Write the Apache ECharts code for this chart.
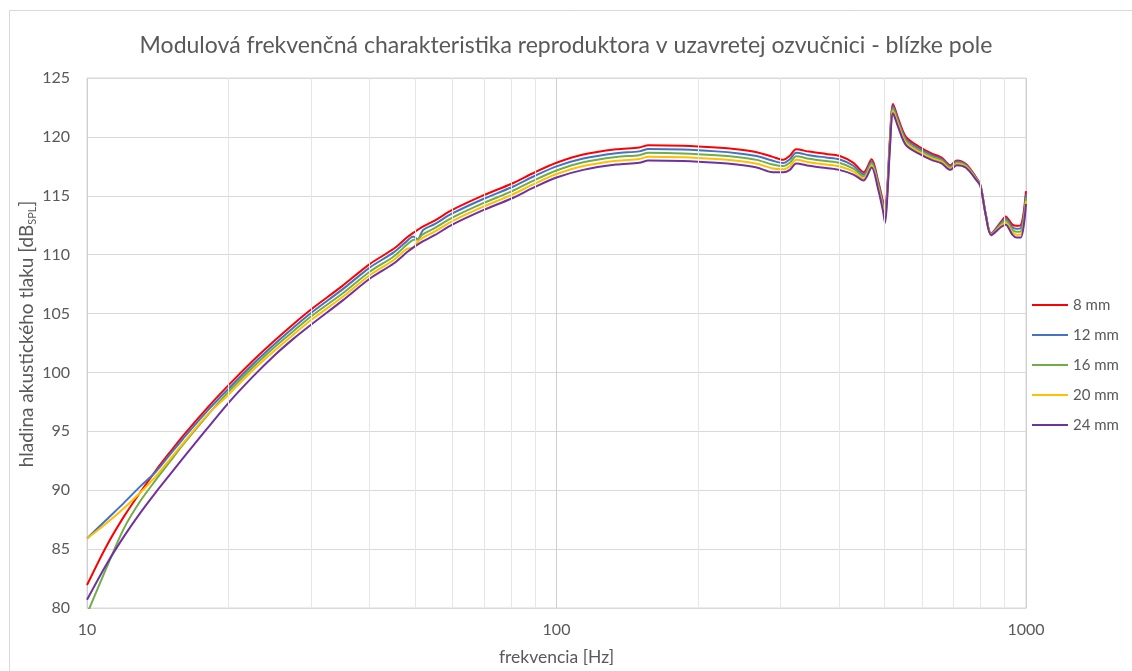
<!DOCTYPE html>
<html>
<head>
<meta charset="utf-8">
<script src="https://cdn.jsdelivr.net/npm/echarts@6/dist/echarts.min.js"></script>
<style>
html,body{margin:0;padding:0;background:#fff;}
#c{width:1132px;height:671px;}
</style>
</head>
<body>
<div id="c"></div>
<script>
const freqs = [10, 11, 12, 13, 14, 15, 16, 18, 20, 22.5, 25, 27.5, 30,
  35, 40, 45, 48, 49.5, 50.6, 52, 55, 60, 70, 80, 90, 100,
  114, 134, 150, 157, 186, 219, 242, 267, 289, 304, 314, 324, 345, 375,
  400, 429, 451, 469, 484, 496, 501, 507, 513, 521, 534, 555,
  590, 629, 661, 690, 712, 745, 785, 800, 821, 843,
  885, 905, 935, 955, 975, 1000];

const mm8 = [81.95, 85.25, 87.8, 89.85, 91.65, 93.2, 94.6, 96.95, 98.9, 100.95, 102.65, 104.1, 105.35,
  107.35, 109.2, 110.5, 111.45, 111.85, 112.1, 112.4, 112.9, 113.8, 115.05, 116.0, 117.0, 117.8,
  118.5, 118.95, 119.1, 119.3, 119.25, 119.1, 118.95, 118.7, 118.3, 118.05, 118.4, 118.95, 118.75, 118.55,
  118.4, 117.8, 117.0, 118.1, 116.3, 114.5, 113.7, 116.0, 119.8, 122.8, 121.6, 120.0,
  119.2, 118.6, 118.25, 117.6, 118.0, 117.7, 116.5, 115.9, 113.4, 111.8,
  112.8, 113.25, 112.55, 112.45, 112.5, 115.4];

const mm12 = [85.9, 87.5, 88.95, 90.35, 91.55, 93.0, 94.35, 96.7, 98.6, 100.65, 102.35, 103.8, 105.05,
  107.05, 108.9, 110.2, 111.15, 111.55, 111.3, 112.1, 112.6, 113.5, 114.75, 115.7, 116.7, 117.5,
  118.17, 118.62, 118.77, 118.97, 118.92, 118.77, 118.62, 118.37, 117.97, 117.78, 118.1, 118.65, 118.45, 118.25,
  118.1, 117.55, 116.82, 117.92, 116.12, 114.3, 113.45, 115.8, 119.6, 122.6, 121.41, 119.82,
  119.05, 118.46, 118.12, 117.5, 117.9, 117.62, 116.45, 115.87, 113.39, 111.76,
  112.69, 113.07, 112.34, 112.2, 112.24, 115.12];

const mm16 = [79.5, 83.4, 86.8, 89.1, 90.85, 92.4, 93.85, 96.3, 98.35, 100.4, 102.1, 103.5, 104.75,
  106.7, 108.55, 109.85, 110.85, 111.25, 111.3, 111.75, 112.25, 113.15, 114.4, 115.35, 116.35, 117.15,
  117.85, 118.3, 118.45, 118.65, 118.6, 118.45, 118.3, 118.05, 117.65, 117.52, 117.8, 118.35, 118.15, 117.95,
  117.8, 117.3, 116.65, 117.75, 115.95, 114.1, 113.2, 115.6, 119.4, 122.4, 121.22, 119.65,
  118.9, 118.32, 118.0, 117.4, 117.8, 117.54, 116.4, 115.85, 113.37, 111.72,
  112.57, 112.9, 112.12, 111.95, 111.97, 114.85];

const mm20 = [85.9, 87.2, 88.5, 89.8, 91.15, 92.6, 93.95, 96.35, 98.1, 100.15, 101.8, 103.2, 104.45,
  106.4, 108.25, 109.55, 110.5, 110.6, 111.1, 111.45, 111.95, 112.85, 114.1, 115.05, 116.05, 116.85,
  117.52, 117.97, 118.12, 118.32, 118.27, 118.12, 117.97, 117.72, 117.32, 117.25, 117.5, 118.05, 117.85, 117.65,
  117.5, 117.05, 116.47, 117.57, 115.77, 113.9, 112.95, 115.4, 119.2, 122.2, 121.04, 119.47,
  118.75, 118.19, 117.87, 117.3, 117.7, 117.46, 116.35, 115.82, 113.36, 111.69,
  112.46, 112.72, 111.91, 111.7, 111.71, 114.57];

const mm24 = [80.7, 83.7, 86.1, 88.1, 89.8, 91.3, 92.7, 95.2, 97.4, 99.6, 101.4, 102.85, 104.05,
  106.1, 107.95, 109.25, 110.2, 110.6, 110.85, 111.15, 111.65, 112.55, 113.8, 114.75, 115.75, 116.55,
  117.2, 117.65, 117.8, 118.0, 117.95, 117.8, 117.65, 117.4, 117.0, 117.0, 117.2, 117.75, 117.55, 117.35,
  117.2, 116.8, 116.3, 117.4, 115.6, 113.7, 112.7, 115.2, 119.0, 122.0, 120.85, 119.3,
  118.6, 118.05, 117.75, 117.2, 117.6, 117.38, 116.3, 115.8, 113.35, 111.65,
  112.35, 112.55, 111.7, 111.45, 111.45, 114.3];

const seriesNames = ['8 mm', '12 mm', '16 mm', '20 mm', '24 mm'];
const seriesColors = ['#ff0000', '#4472c4', '#70ad47', '#ffc000', '#7030a0'];
const seriesValues = [mm8, mm12, mm16, mm20, mm24];

const xMajorTicks = [10, 100, 1000];
const xMinorTicks = [20, 30, 40, 50, 60, 70, 80, 90, 200, 300, 400, 500, 600, 700, 800, 900];
const yTicks = [80, 85, 90, 95, 100, 105, 110, 115, 120, 125];

const FONT = 'Lato, "Open Sans", sans-serif';
const TXT = '#595959';

const chart = echarts.init(document.getElementById('c'), null, {renderer: 'canvas'});

const lineSeries = seriesNames.map((name, k) => ({
  name: name,
  type: 'line',
  data: freqs.map((f, i) => [f, seriesValues[k][i]]),
  symbol: 'none',
  showSymbol: false,
  smooth: 0.3,
  clip: true,
  z: 3,
  lineStyle: {color: seriesColors[k], width: 2},
  itemStyle: {color: seriesColors[k]}
}));

const gridSeries = {
  name: 'grid',
  type: 'line',
  data: [],
  z: 1,
  silent: true,
  markLine: {
    silent: true,
    symbol: ['none', 'none'],
    label: {show: false},
    animation: false,
    lineStyle: {color: '#e6e6e6', type: 'solid', width: 1},
    data: xMinorTicks.map(v => ({xAxis: v}))
  }
};

chart.setOption({
  animation: false,
  backgroundColor: '#ffffff',
  textStyle: {fontFamily: FONT},
  title: {
    text: 'Modulová frekvenčná charakteristika reproduktora v uzavretej ozvučnici - blízke pole',
    left: 'center',
    top: 29,
    textStyle: {fontSize: 23, fontWeight: 'normal', color: TXT, fontFamily: FONT}
  },
  legend: {
    data: seriesNames.map((n, k) => ({name: n, icon: 'rect', itemStyle: {color: seriesColors[k]}})),
    orient: 'vertical',
    left: 1032,
    top: 297,
    itemWidth: 36,
    itemHeight: 2,
    itemGap: 14,
    padding: 0,
    textStyle: {fontSize: 15, lineHeight: 16, color: TXT, fontFamily: FONT}
  },
  grid: {
    left: 87, right: 106, top: 78, bottom: 56,
    show: true, borderColor: '#d9d9d9', borderWidth: 1,
    containLabel: false
  },
  xAxis: {
    type: 'log',
    logBase: 10,
    min: 10,
    max: 1000,
    name: 'frekvencia [Hz]',
    nameLocation: 'middle',
    nameGap: 40,
    nameTextStyle: {fontSize: 17.5, color: TXT, fontFamily: FONT},
    axisLine: {show: true, lineStyle: {color: '#d9d9d9'}},
    axisTick: {show: false},
    axisLabel: {
      fontSize: 16, color: TXT, margin: 14, fontFamily: FONT,
      formatter: v => (xMajorTicks.indexOf(Math.round(v)) >= 0 ? String(Math.round(v)) : '')
    },
    splitLine: {show: true, lineStyle: {color: '#cfcfcf', width: 1}},
    minorTick: {show: false},
    minorSplitLine: {show: false}
  },
  yAxis: {
    type: 'value',
    min: yTicks[0],
    max: yTicks[yTicks.length - 1],
    interval: 5,
    axisLine: {show: false},
    axisTick: {show: false},
    axisLabel: {fontSize: 16, color: TXT, margin: 17, fontFamily: FONT},
    splitLine: {show: true, lineStyle: {color: '#d9d9d9', width: 1}}
  },
  graphic: [
    {
      type: 'rect',
      shape: {x: 9.5, y: 10.5, width: 1300, height: 1000},
      style: {fill: 'none', stroke: '#d9d9d9', lineWidth: 1},
      silent: true,
      z: -10
    },
    {
      type: 'text',
      x: 27,
      y: 334,
      rotation: Math.PI / 2,
      style: {
        text: '{a|hladina akustického tlaku [dB}{s|SPL}{a|]}',
        align: 'center',
        verticalAlign: 'middle',
        rich: {
          a: {fontSize: 19, fill: TXT, fontFamily: FONT, lineHeight: 22},
          s: {fontSize: 11, fill: TXT, fontFamily: FONT, lineHeight: 11, verticalAlign: 'bottom'}
        }
      },
      silent: true
    }
  ],
  series: [gridSeries].concat(lineSeries)
});
</script>
</body>
</html>
